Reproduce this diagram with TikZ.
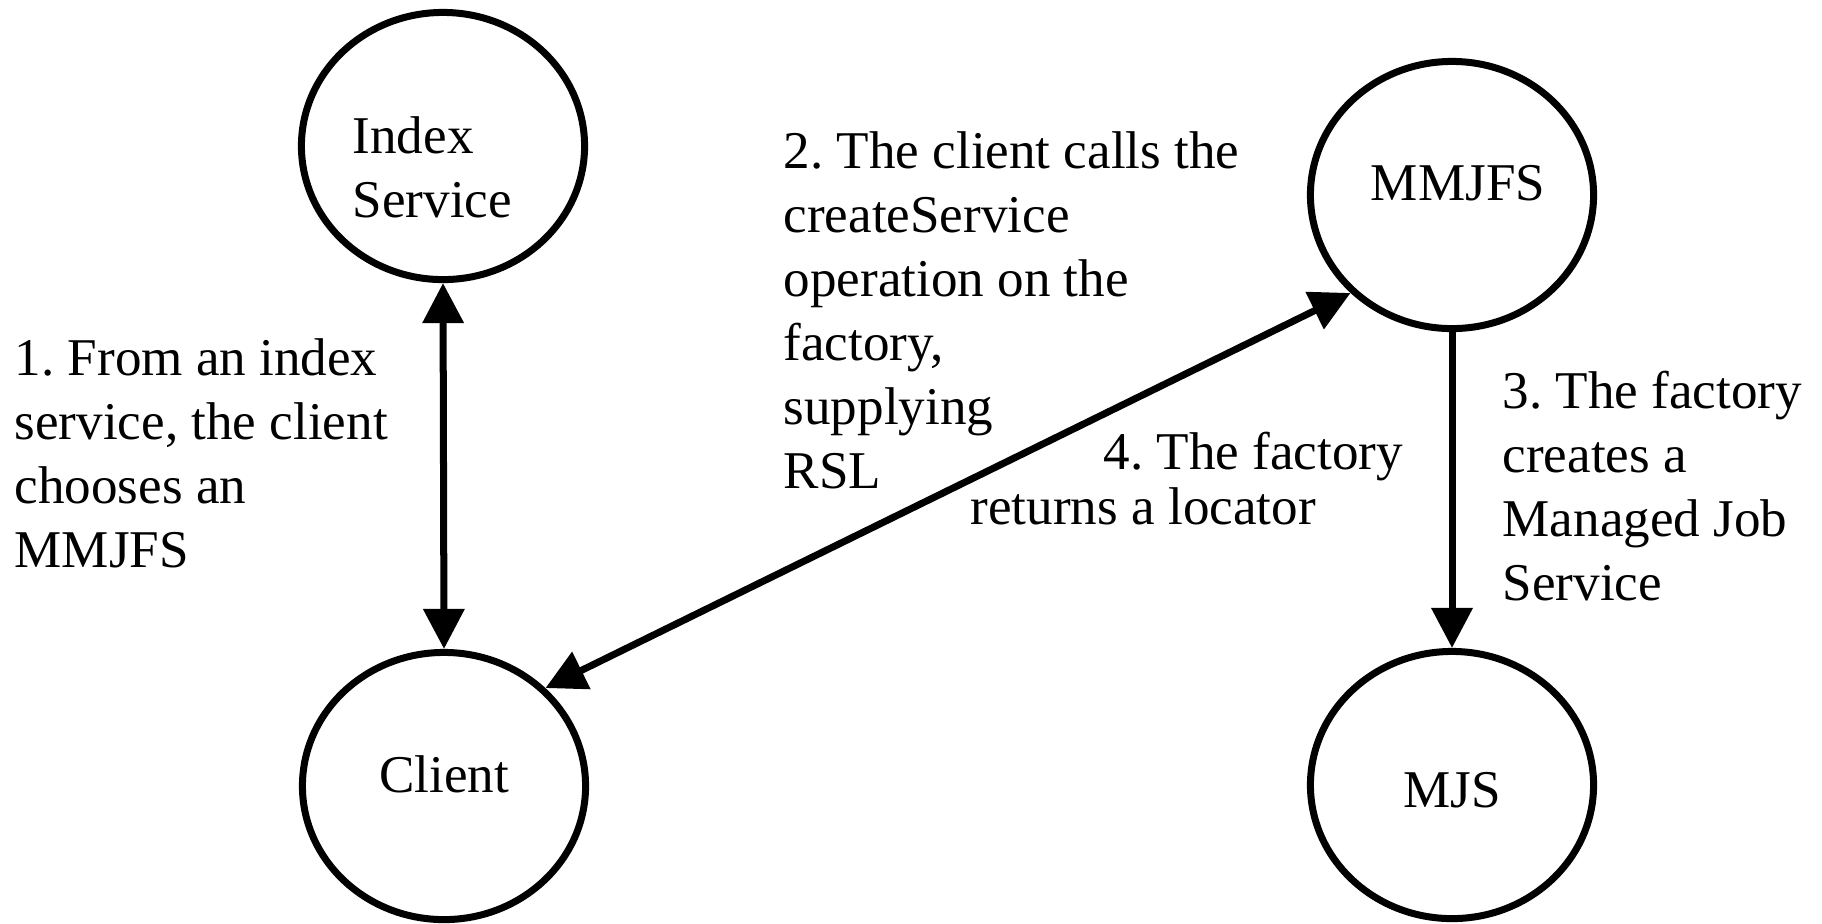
\documentclass[tikz,border=0pt]{standalone}
\usepackage{fontspec}
\setmainfont{Liberation Serif}
\usepackage{tikz}
\usetikzlibrary{positioning,arrows.meta,shapes.geometric}
\frenchspacing

\begin{document}
\begin{tikzpicture}[
      x=0.01cm, y=-0.01cm,
      >={Triangle[length=4mm,width=4mm]},
      every node/.style={font=\fontsize{15.1pt}{18.2pt}\selectfont, inner sep=0pt},
      svc/.style={draw, ellipse, line width=0.07cm, minimum width=2.83cm, minimum height=2.67cm},
      link/.style={line width=0.07cm},
      note/.style={align=left, anchor=north west}
    ]
      \useasboundingbox (0,0) rectangle (1822,923);

      \node[svc] (index) at (443,146) {};
      \node[svc] (client) at (444,786) {};
      \node[svc] (mmjfs) at (1452,195) {};
      \node[svc] (mjs) at (1452,785) {};

      \node[note] (indextxt) at (352,116) {Index\\Service};
      \node[anchor=base] (mmjfstxt) at (1458,200) {MMJFS};
      \node[anchor=base] (clienttxt) at (444,792) {Client};
      \node[anchor=base] (mjstxt) at (1452,807) {MJS};

      \draw[link, <->] (index.south) -- (client.north);
      \draw[link, <->] (client.44) -- (mmjfs.224.4);
      \draw[link, ->] (mmjfs.south) -- (mjs.north);

      \node[note] (step1) at (14,338) {1. From an index\\service, the client\\chooses an\\MMJFS};
      \node[note] (step2) at (783,131) {2. The client calls the\\createService\\operation on the\\factory,\\supplying\\RSL};
      \node[note] (step3) at (1502,370) {3. The factory\\creates a\\Managed Job\\Service};
      \node[note, font=\fontsize{15.1pt}{15.65pt}\selectfont] (step4) at (970,431) {\hspace*{1.33cm}4. The factory\\returns a locator};
    \end{tikzpicture}
\end{document}
